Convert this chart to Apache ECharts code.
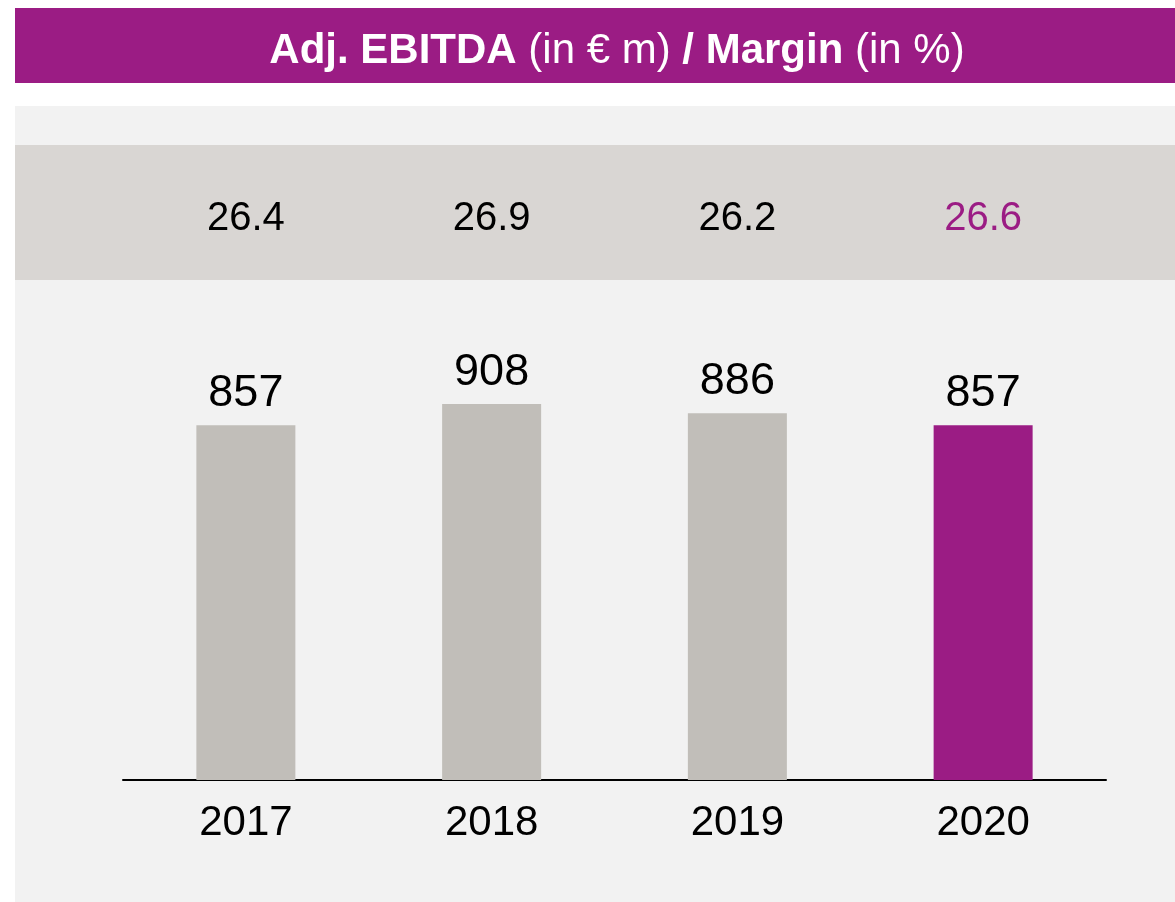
<!DOCTYPE html>
<html>
<head>
<meta charset="utf-8">
<script src="https://cdn.jsdelivr.net/npm/echarts@6/dist/echarts.min.js"></script>
<style>
  html, body { margin: 0; padding: 0; background: #fff; }
  #main { width: 1175px; height: 902px; }
</style>
</head>
<body>
<div id="main"></div>
<script>
// data
var years = ['2017', '2018', '2019', '2020'];
var ebitda = [857, 908, 886, 857];
var margin = ['26.4', '26.9', '26.2', '26.6'];

var purple = '#9B1C84';
var grey = '#C1BEB9';

var myChart = echarts.init(document.getElementById('main'));

var option = {
  backgroundColor: '#fff',
  animation: false,
  textStyle: { fontFamily: 'Liberation Sans, Arial, sans-serif' },
  graphic: [
    // title banner
    { type: 'rect', z: 0, shape: { x: 15, y: 8, width: 1160, height: 75 }, style: { fill: purple } },
    // grey panel
    { type: 'rect', z: 0, shape: { x: 15, y: 106, width: 1160, height: 796 }, style: { fill: '#F2F2F2' } },
    // margin band
    { type: 'rect', z: 0, shape: { x: 15, y: 145, width: 1160, height: 135 }, style: { fill: '#D9D6D3' } }
  ],
  title: {
    left: 612,
    top: 25,
    textAlign: 'center',
    text: '{b|Adj. EBITDA }{n|(in € m) }{b|/ Margin }{n|(in %)}',
    textStyle: {
      rich: {
        b: { fontSize: 42, fontWeight: 'bold', color: '#fff', fontFamily: 'Liberation Sans' },
        n: { fontSize: 42, fontWeight: 'normal', color: '#fff', fontFamily: 'Liberation Sans' }
      }
    }
  },
  grid: { left: 123, right: 69, top: 366, bottom: 122 },
  xAxis: [
    {
      type: 'category',
      data: years,
      axisLine: { lineStyle: { color: '#000', width: 2 } },
      axisTick: { show: false },
      axisLabel: { color: '#000', fontSize: 42, margin: 22 }
    },
    {
      // margin row shown in the band above the bars
      type: 'category',
      position: 'top',
      offset: 127,
      data: margin,
      axisLine: { show: false },
      axisTick: { show: false },
      axisLabel: {
        fontSize: 40,
        margin: 0,
        color: function (value, index) { return index === margin.length - 1 ? purple : '#000'; }
      }
    }
  ],
  yAxis: {
    type: 'value',
    min: 0,
    max: 1000,
    show: false,
    splitLine: { show: false }
  },
  series: [
    {
      type: 'bar',
      barWidth: 99,
      data: ebitda.map(function (v, i) {
        return { value: v, itemStyle: { color: i === ebitda.length - 1 ? purple : grey } };
      }),
      label: {
        show: true,
        position: 'top',
        distance: 9,
        color: '#000',
        fontSize: 45
      }
    }
  ]
};

myChart.setOption(option);
</script>
</body>
</html>
